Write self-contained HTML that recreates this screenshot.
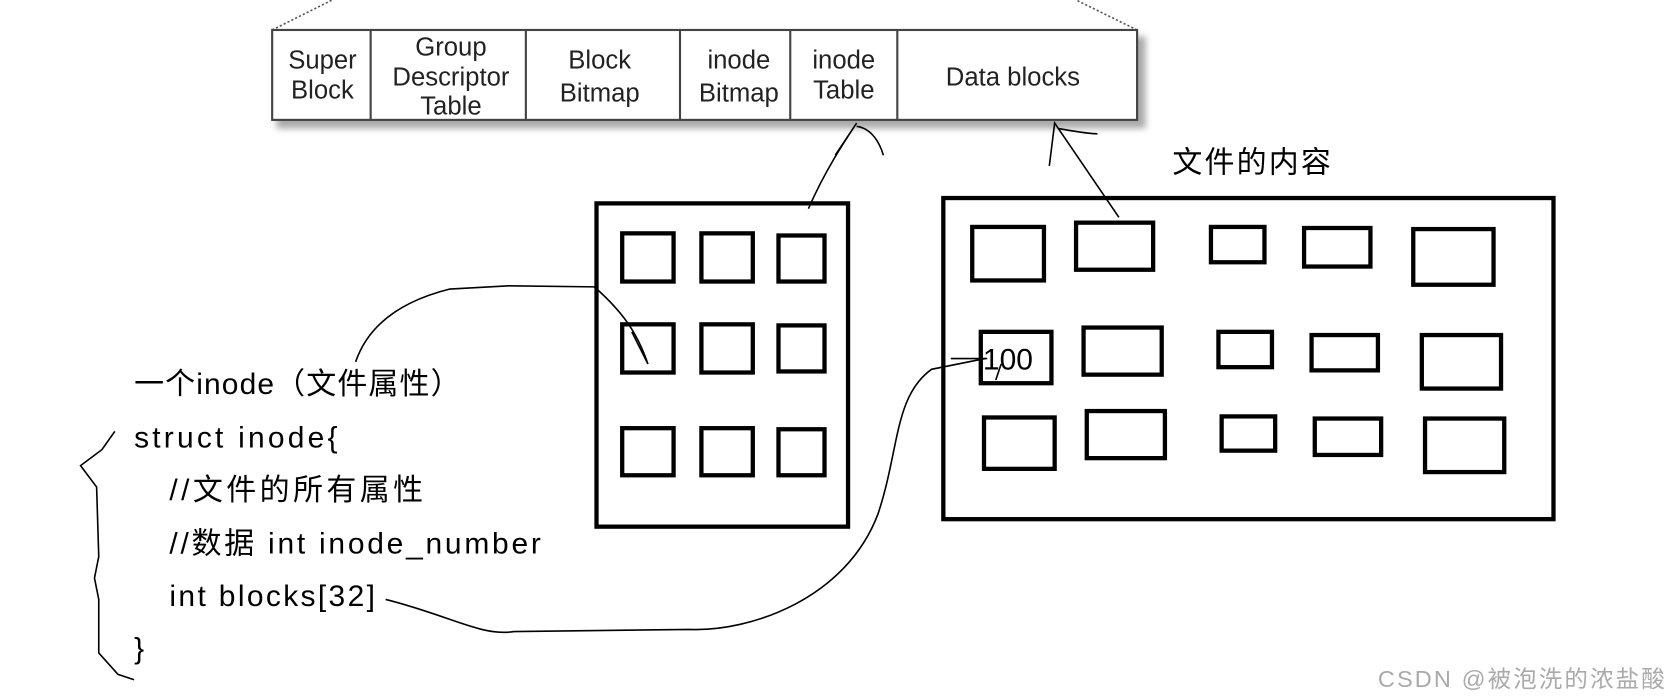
<!DOCTYPE html>
<html><head><meta charset="utf-8"><style>
html,body{margin:0;padding:0;background:#fff;}
svg{display:block;}
.c{font-family:"Liberation Sans Narrow","Liberation Sans",sans-serif;font-size:24px;fill:#222;text-anchor:middle;}
.t{font-family:"Liberation Sans","Noto Sans CJK SC",sans-serif;font-size:28px;fill:#000;}
</style></head><body>
<svg width="1679" height="699" viewBox="0 0 1568 653" xmlns="http://www.w3.org/2000/svg">
<defs><filter id="sh"><feGaussianBlur stdDeviation="3"/></filter></defs>
<line x1="254" y1="28" x2="310" y2="0" stroke="#555" stroke-width="1.5" stroke-dasharray="2,2"/>
<line x1="1062" y1="28" x2="1005" y2="0" stroke="#555" stroke-width="1.5" stroke-dasharray="2,2"/>
<rect x="258" y="34" width="812" height="86" fill="#aaa" filter="url(#sh)"/>
<rect x="254" y="28" width="808" height="84" fill="#fff" stroke="#444" stroke-width="2"/>
<g stroke="#444" stroke-width="2">
<line x1="346" y1="28" x2="346" y2="112"/><line x1="491" y1="28" x2="491" y2="112"/>
<line x1="635" y1="28" x2="635" y2="112"/><line x1="738" y1="28" x2="738" y2="112"/>
<line x1="838" y1="28" x2="838" y2="112"/></g>
<text class="c" x="301" y="64">Super</text><text class="c" x="301" y="92">Block</text>
<text class="c" x="421" y="52">Group</text><text class="c" x="421" y="80">Descriptor</text><text class="c" x="421" y="107">Table</text>
<text class="c" x="560" y="64">Block</text><text class="c" x="560" y="95">Bitmap</text>
<text class="c" x="690" y="64">inode</text><text class="c" x="690" y="95">Bitmap</text>
<text class="c" x="788" y="64">inode</text><text class="c" x="788" y="92">Table</text>
<text class="c" x="946" y="80">Data blocks</text>
<text class="t" x="1095" y="161" font-size="26" textLength="148">文件的内容</text>
<g fill="none" stroke="#000" stroke-width="4">
<rect x="557" y="190" width="235" height="302"/>
<rect x="581" y="218" width="48" height="45"/><rect x="655" y="218" width="48" height="45"/><rect x="727" y="220" width="43" height="43"/>
<rect x="581" y="303" width="48" height="45"/><rect x="655" y="303" width="48" height="45"/><rect x="727" y="304" width="43" height="43"/>
<rect x="581" y="400" width="48" height="44"/><rect x="655" y="400" width="48" height="44"/><rect x="727" y="401" width="43" height="43"/>
<rect x="881" y="185" width="570" height="300"/>
<rect x="908" y="212" width="67" height="50"/><rect x="1005" y="208" width="72" height="44"/><rect x="1131" y="212" width="50" height="33"/><rect x="1218" y="213" width="62" height="36"/><rect x="1320" y="214" width="75" height="52"/>
<rect x="916" y="310" width="66" height="48"/><rect x="1012" y="306" width="73" height="44"/><rect x="1138" y="310" width="50" height="33"/><rect x="1225" y="313" width="62" height="33"/><rect x="1328" y="313" width="74" height="50"/>
<rect x="919" y="390" width="66" height="48"/><rect x="1015" y="384" width="73" height="44"/><rect x="1141" y="389" width="50" height="32"/><rect x="1228" y="391" width="62" height="34"/><rect x="1331" y="391" width="74" height="50"/>
</g>
<text class="t" x="918" y="345" font-size="30">100</text>
<g fill="none" stroke="#000" stroke-width="1.5">
<path d="M107,403 L95,420 L75,435 L90,455 L92,520 L88,540 L92,560 L92,610 L110,630 L125,635"/>
<path d="M332,338 C345,300 380,280 420,270 L475,267 L555,268 C580,290 595,310 605,340"/>
<path d="M590,310 L605,340"/>
<path d="M360,560 C420,575 450,595 480,590 L645,588 C700,590 790,560 820,480 C840,420 835,370 870,345 L920,335"/>
<path d="M888,335 L922,335 M935,340 L930,355"/>
<path d="M755,195 C770,160 790,130 800,115 L780,145 M800,118 C815,120 822,135 825,145"/>
<path d="M1045,203 L985,115 L980,155 M988,120 C1000,122 1015,125 1025,125"/>
</g>
<text x="1287" y="642" font-family="Liberation Sans,Noto Sans CJK SC,sans-serif" font-size="22" fill="#aaa" textLength="268">CSDN @被泡洗的浓盐酸</text>
<text class="t" x="125" y="368" textLength="305">一个inode（文件属性）</text>
<text class="t" x="125" y="418" textLength="190">struct inode{</text>
<text class="t" x="158" y="467" textLength="237">//文件的所有属性</text>
<text class="t" x="158" y="517" textLength="347">//数据 int inode_number</text>
<text class="t" x="158" y="566" textLength="192">int blocks[32]</text>
<text class="t" x="125" y="615">}</text>
</svg>
</body></html>
